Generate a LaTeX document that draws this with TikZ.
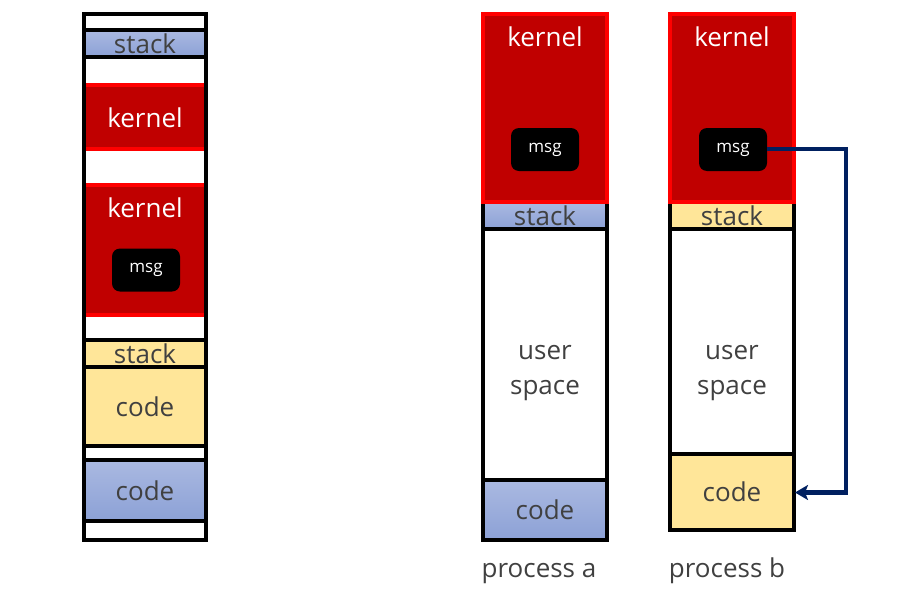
\documentclass[tikz,border=0pt]{standalone}
\usepackage{fontspec}
\setmainfont{Open Sans}
\usetikzlibrary{arrows.meta}
\definecolor{kred}{HTML}{C00000}
\definecolor{kborder}{HTML}{FF0000}
\definecolor{yel}{HTML}{FFE699}
\definecolor{bluetop}{HTML}{AAB9E1}
\definecolor{bluebot}{HTML}{8CA1D6}
\definecolor{txt}{HTML}{404040}
\definecolor{navy}{HTML}{002060}
\begin{document}
\begin{tikzpicture}[x=1pt,y=-1pt,
  seg/.style={draw=black, line width=4pt, inner sep=0pt, outer sep=0pt, text=txt,
    font=\fontsize{26}{30}\selectfont},
  bluefill/.style={shading=axis, top color=bluetop, bottom color=bluebot},
  yelfill/.style={fill=yel},
  kern/.style={fill=kred, draw=kborder, line width=4pt, inner sep=0pt, outer sep=0pt},
  klbl/.style={text=white, font=\fontsize{26}{30}\selectfont, inner sep=0pt},
  lbl/.style={text=txt, font=\fontsize{26}{35}\selectfont, inner sep=0pt, align=center},
  msgbox/.style={fill=black, rounded corners=8pt, minimum width=68pt, minimum height=43pt,
    text=white, font=\fontsize{17}{18}\selectfont, inner sep=0pt, outer sep=0pt},
  conn/.style={draw=navy, line width=4.5pt, -{Stealth[length=13pt,width=15pt,inset=3pt]}}
]
\useasboundingbox (0,0) rectangle (900,600);

% ---------- left column ----------
\node[seg, fill=white, minimum width=122pt, minimum height=16pt] (w1) at (145,22) {};
\node[seg, bluefill, minimum width=122pt, minimum height=27pt] (stk1) at (145,43.5) {stack};
\node[seg, fill=white, minimum width=122pt, minimum height=283pt] (w2) at (145,198.5) {};
\node[kern, minimum width=122pt, minimum height=64pt] (k1) at (145,117) {};
\node[klbl] (k1t) at (145,118) {kernel};
\node[kern, minimum width=122pt, minimum height=130pt] (k2) at (145,250) {};
\node[klbl] (k2t) at (145,208) {kernel};
\node[msgbox] (m1) at (146,270) {msg};
\node[seg, yelfill, minimum width=122pt, minimum height=27pt] (stk2) at (145,353.5) {stack};
\node[seg, yelfill, minimum width=122pt, minimum height=79pt] (code1) at (145,406.5) {code};
\node[seg, fill=white, minimum width=122pt, minimum height=13.5pt] (w3) at (145,452.75) {};
\node[seg, bluefill, minimum width=122pt, minimum height=61.5pt] (code2) at (145,490.25) {code};
\node[seg, fill=white, minimum width=122pt, minimum height=19pt] (w4) at (145,530.5) {};
\draw[line width=4pt] (w1.north west) rectangle (w4.south east);

% ---------- process a ----------
\node[seg, bluefill, minimum width=124pt, minimum height=27pt] (stkA) at (545,215.5) {stack};
\node[seg, fill=white, minimum width=124pt, minimum height=251pt] (userA) at (545,354.5) {};
\node[lbl] (userAt) at (545,373) {user\\space};
\node[seg, bluefill, minimum width=124pt, minimum height=60pt] (codeA) at (545,510) {code};
\node[kern, minimum width=124pt, minimum height=188pt] (kA) at (545,108) {};
\node[klbl] (kAt) at (545,37) {kernel};
\node[msgbox] (mA) at (545,149.5) {msg};
\node[lbl, anchor=base] (pa) at (539,577) {process a};

% ---------- process b ----------
\node[seg, yelfill, minimum width=124pt, minimum height=27pt] (stkB) at (732,215.5) {stack};
\node[seg, fill=white, minimum width=124pt, minimum height=225pt] (userB) at (732,341.5) {};
\node[lbl] (userBt) at (732,373) {user\\space};
\node[seg, yelfill, minimum width=124pt, minimum height=76pt] (codeB) at (732,492) {code};
\node[kern, minimum width=124pt, minimum height=188pt] (kB) at (732,108) {};
\node[klbl] (kBt) at (732,37) {kernel};
\node[msgbox] (mB) at (733,149.5) {msg};
\node[lbl, anchor=base] (pb) at (727,577) {process b};

% ---------- connector ----------
\coordinate (c1) at (846,149);
\coordinate (c2) at (846,492.5);
\draw[conn] (mB.east |- c1) -- (c1) -- (c2) -- ([xshift=1pt]codeB.east |- c2);
\end{tikzpicture}
\end{document}
